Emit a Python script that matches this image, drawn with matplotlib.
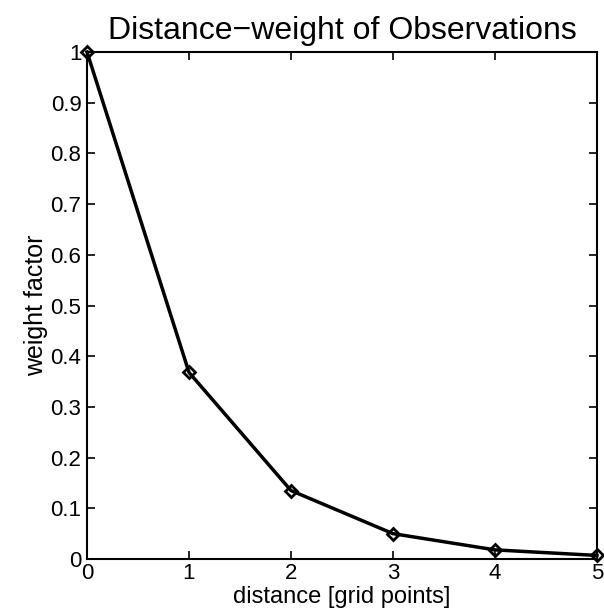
import matplotlib
matplotlib.use("Agg")
import matplotlib.pyplot as plt

distance = [0, 1, 2, 3, 4, 5]
weight = [1.0, 0.368, 0.135, 0.050, 0.018, 0.007]
xticks = [0, 1, 2, 3, 4, 5]
yticks = [0, 0.1, 0.2, 0.3, 0.4, 0.5, 0.6, 0.7, 0.8, 0.9, 1]
ytick_labels = ["0", "0.1", "0.2", "0.3", "0.4", "0.5", "0.6", "0.7", "0.8", "0.9", "1"]

plt.rcParams['font.family'] = ['Liberation Sans', 'DejaVu Sans']

W, H = 604, 614
fig = plt.figure(figsize=(W / 100, H / 100), dpi=100)
left, right, top, bottom = 87, 597, 52, 559
ax = fig.add_axes([left / W, 1 - bottom / H, (right - left) / W, (bottom - top) / H])

ax.plot(distance, weight, color='black', linewidth=2.5, marker='D', markersize=6.5,
        markerfacecolor='none', markeredgecolor='black', markeredgewidth=2, clip_on=False, zorder=5)

ax.set_xlim(0, 5)
ax.set_ylim(0, 1)
ax.set_xticks(xticks)
ax.set_xticklabels([str(t) for t in xticks])
ax.set_yticks(yticks)
ax.set_yticklabels(ytick_labels)
ax.tick_params(direction='in', top=True, right=True, length=6, width=1.2,
               labelsize=16)
ax.tick_params(axis='y', pad=4)
ax.tick_params(axis='x', pad=3)
for s in ax.spines.values():
    s.set_linewidth(1.5)

ax.set_title("Distance\u2212weight of Observations", fontsize=23, pad=9)
ax.set_xlabel("distance [grid points]", fontsize=17, labelpad=1)
ax.set_ylabel("weight factor", fontsize=18, labelpad=2)

fig.savefig("out.png", dpi=100, facecolor='white')
